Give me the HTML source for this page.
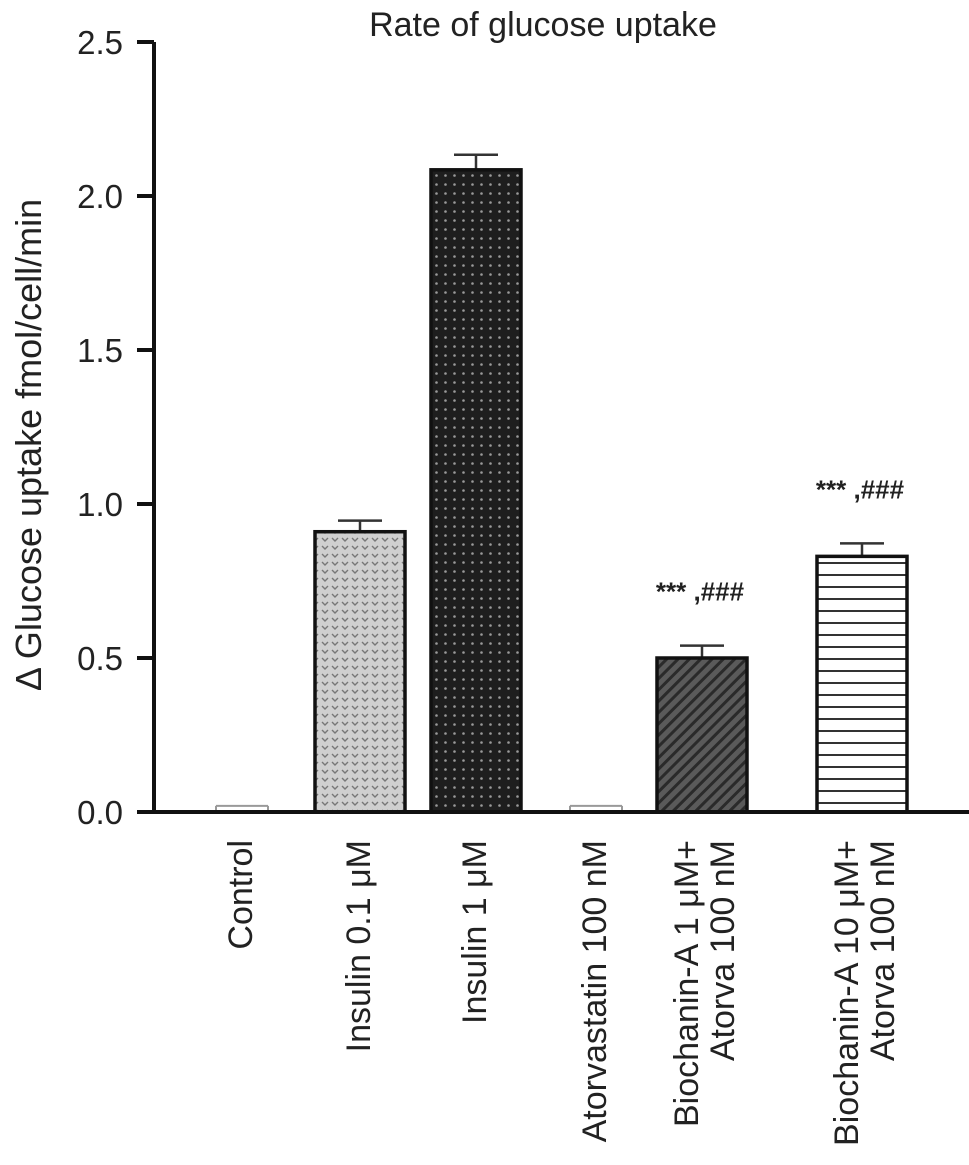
<!DOCTYPE html>
<html><head><meta charset="utf-8"><style>
html,body{margin:0;padding:0;background:#fff}
svg{display:block}
text{font-family:"Liberation Sans",Arial,sans-serif;fill:#222}
</style></head><body>
<svg id="chart" width="969" height="1165" viewBox="0 0 969 1165" xmlns="http://www.w3.org/2000/svg">
<defs>
<pattern id="p-chev" width="10" height="8" patternUnits="userSpaceOnUse">
<rect width="10" height="8" fill="#cfcfcf"/><path d="M2 2 L5 5 L8 2" stroke="#777" stroke-width="1.4" fill="none"/>
</pattern>
<pattern id="p-dots" width="9" height="9" patternUnits="userSpaceOnUse">
<rect width="9" height="9" fill="#1e1e1e"/><circle cx="4.5" cy="4.5" r="1.3" fill="#9a9a9a"/>
</pattern>
<pattern id="p-diag" width="8" height="8" patternUnits="userSpaceOnUse" patternTransform="rotate(45)">
<rect width="8" height="8" fill="#5a5a5a"/><rect width="3" height="8" fill="#2a2a2a"/>
</pattern>
<pattern id="p-horiz" width="10" height="12" patternUnits="userSpaceOnUse">
<rect width="10" height="12" fill="#fff"/><rect y="10" width="10" height="2" fill="#333"/>
</pattern>
</defs>
<text x="543" y="36" font-size="34" text-anchor="middle">Rate of glucose uptake</text>
<text transform="translate(41,445) rotate(-90)" font-size="36" text-anchor="middle">Δ Glucose uptake fmol/cell/min</text>
<g id="plot"></g>
</svg>
<script>
const categories = [["Control"],["Insulin 0.1 μM"],["Insulin 1 μM"],["Atorvastatin 100 nM"],["Biochanin-A 1 μM+","Atorva 100 nM"],["Biochanin-A 10 μM+","Atorva 100 nM"]];
const values = [0.01, 0.91, 2.085, 0.01, 0.50, 0.83];
const errors = [0.01, 0.036, 0.049, 0.01, 0.04, 0.042];
const annotations = ["", "", "", "", "*** ,###", "*** ,###"];
const yTicks = [0, 0.5, 1.0, 1.5, 2.0, 2.5];
const yTickLabels = ["0.0","0.5","1.0","1.5","2.0","2.5"];

const fills = ["none","url(#p-chev)","url(#p-dots)","none","url(#p-diag)","url(#p-horiz)"];
const NS = "http://www.w3.org/2000/svg";
const g = document.getElementById('plot');
const y0 = 812, yTop = 42, yMax = 2.5;
function yS(v){ return y0 - (v / yMax) * (y0 - yTop); }
const centers = [242, 360, 476, 596, 702, 862];
function xS(i){ return centers[i]; }
const bw = 90;
function mk(tag, attrs){ const e = document.createElementNS(NS, tag); for (const k in attrs) e.setAttribute(k, attrs[k]); g.appendChild(e); return e; }

values.forEach((v, i) => {
  const cx = xS(i);
  const top = yS(v), et = yS(v + errors[i]);
  if (fills[i] === "none") {
    const e = mk('path', {d:`M${cx-26} ${et} L${cx-26} ${y0} M${cx+26} ${et} L${cx+26} ${y0} M${cx-26} ${et} L${cx+26} ${et}`, stroke:'#999', 'stroke-width':2, fill:'none'});
    
    
  } else {
    const eb = mk('path', {d:`M${cx} ${top} L${cx} ${et} M${cx-22} ${et} L${cx+22} ${et}`, stroke:'#333', 'stroke-width':2.5, fill:'none'});
    
    
    const r = mk('rect', {x:cx-bw/2, y:top, width:bw, height:y0-top, fill:fills[i], stroke:'#111', 'stroke-width':3.5});
    
    
  }
  if (annotations[i]) {
    const t = mk('text', {x:cx - 2, y:et - 45, 'font-size':26, 'font-weight':'bold', 'text-anchor':'middle'});
    t.textContent = annotations[i];
    
    
  }
  const lines = categories[i];
  lines.forEach((ln, j) => {
    const bx = cx + 10 + (j - (lines.length - 1) / 2) * 36 + (lines.length > 1 ? 4 : 0);
    const t = mk('text', {transform:`translate(${bx},840) rotate(-90)`, 'font-size':34, 'text-anchor':'end'});
    t.textContent = ln;
    
    
  });
});

const ax = mk('path', {d:`M154 ${yTop} L154 ${y0+2} M137 ${y0} L969 ${y0}`, stroke:'#111', 'stroke-width':4, fill:'none'});


yTicks.forEach((v, i) => {
  const yy = yS(v);
  const tk = mk('line', {x1:137, x2:154, y1:yy, y2:yy, stroke:'#111', 'stroke-width':4});
  
  
  const t = mk('text', {x:123, y:yy + 12, 'font-size':33, 'text-anchor':'end'});
  t.textContent = yTickLabels[i];
  
  
});
</script>
</body></html>
